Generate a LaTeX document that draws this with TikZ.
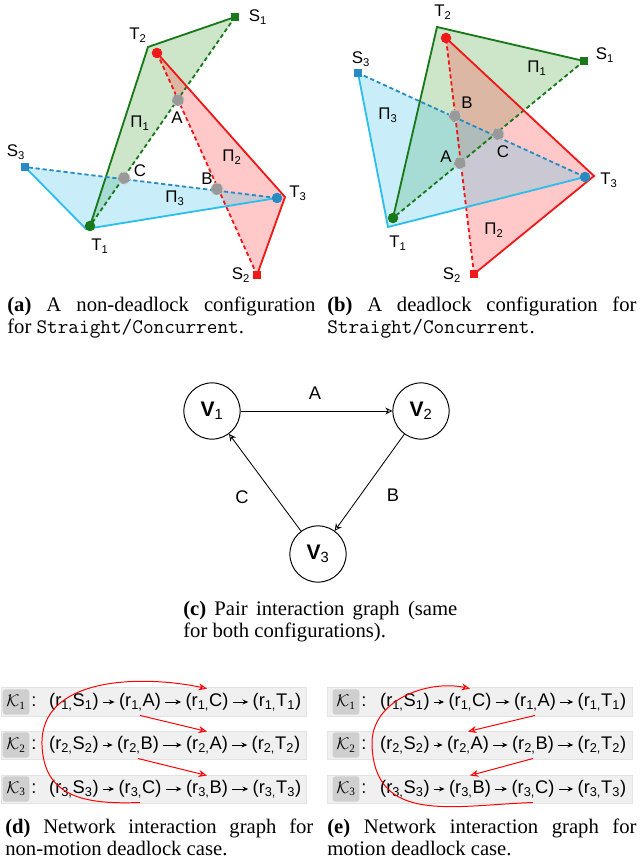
\documentclass[tikz,border=0pt]{standalone}
\usepackage{amsmath}
\usepackage{fontspec}
\setmainfont{Liberation Serif}
\setsansfont{Liberation Sans}
\usepackage{tikz}
\usetikzlibrary{arrows.meta,positioning}
\hyphenpenalty=10000
\exhyphenpenalty=10000

\definecolor{pgreen}{RGB}{25,120,25}
\definecolor{pred}{RGB}{240,25,25}
\definecolor{pcyan}{RGB}{45,190,235}
\definecolor{pblue}{RGB}{40,140,195}
\definecolor{fgreen}{RGB}{90,170,75}
\definecolor{fred}{RGB}{255,75,75}
\definecolor{fblue}{RGB}{75,200,235}

\tikzset{
    lbl/.style={font=\sffamily\fontsize{12}{12}\selectfont, inner sep=1pt},
    tdot/.style={circle, fill=#1, inner sep=0pt, minimum size=7.5pt},
    sbox/.style={rectangle, fill=#1, inner sep=0pt, minimum size=5.5pt},
    xing/.style={circle, fill=gray!80, draw=gray!45, densely dashed, line width=0.7pt, inner sep=0pt, minimum size=8.5pt},
    side/.style={line width=1.3pt, draw=#1},
    route/.style={line width=1.3pt, dash pattern=on 3pt off 2pt, draw=#1},
    vnode/.style={circle, draw, line width=0.7pt, minimum size=40pt, inner sep=0pt, font=\sffamily\fontsize{15}{15}\selectfont},
    garrow/.style={-{Stealth[open,length=5pt,width=5pt]}, line width=0.6pt},
    band/.style={fill=gray!12, draw=gray!22, line width=0.3pt},
    kbox/.style={fill=gray!38, rounded corners=2pt, minimum width=19pt, minimum height=18pt, inner sep=0pt, font=\fontsize{12}{12}\selectfont},
    entry/.style={font=\sffamily\fontsize{13}{13}\selectfont, inner sep=3pt},
    seqarrow/.style={-{Stealth[length=4pt,width=3.5pt]}, line width=0.6pt},
    netarrow/.style={-{Stealth[open,length=6pt,width=5pt]}, draw=red, line width=0.7pt},
    subcap/.style={font=\fontsize{14.7}{15.6}\selectfont, text width=#1, align=justify, inner sep=0pt, anchor=north west}
}

\begin{document}
\begin{tikzpicture}[x=0.025cm, y=0.025cm]
    \useasboundingbox (0,0) rectangle (640,-860);

    % (a) non-deadlock
    \coordinate (aT1) at (90,-226);
    \coordinate (aT1b) at (86,-229);
    \coordinate (aT2) at (148,-47);
    \coordinate (aT2r) at (157,-53);
    \coordinate (aT3) at (277,-198);
    \coordinate (aT3r) at (285,-197);
    \coordinate (aS1) at (235,-17);
    \coordinate (aS2) at (257,-275);
    \coordinate (aS3) at (25,-167);

    \fill [fgreen, fill opacity=0.3] (aT1)--(aT2)--(aS1)--cycle;
    \fill [fred, fill opacity=0.3] (aT2r)--(aT3r)--(aS2)--cycle;
    \fill [fblue, fill opacity=0.3] (aS3)--(aT1b)--(aT3)--cycle;

    \draw [side=pgreen] (aT1)--(aT2)--(aS1);
    \draw [route=pgreen] (aS1)--(aT1);
    \draw [side=pred] (aT2r)--(aT3r)--(aS2);
    \draw [route=pred] (aS2)--(aT2r);
    \draw [side=pcyan] (aS3)--(aT1b)--(aT3);
    \draw [route=pblue] (aT3)--(aS3);

    \node [xing] (aA) at (178,-100) {};
    \node [xing] (aB) at (217,-189) {};
    \node [xing] (aC) at (124,-178) {};
    \node [tdot=pgreen] (aR1) at (aT1) {};
    \node [tdot=pred] (aR2) at (aT2r) {};
    \node [tdot=pblue] (aR3) at (aT3) {};
    \node [sbox=pgreen] (aQ1) at (aS1) {};
    \node [sbox=pred] (aQ2) at (aS2) {};
    \node [sbox=pblue] (aQ3) at (aS3) {};

    \node [lbl] (laT2) at (138,-35) {T\textsubscript{2}};
    \node [lbl] (laS1) at (258,-17) {S\textsubscript{1}};
    \node [lbl] (laP1) at (140,-123) {Π\textsubscript{1}};
    \node [lbl] (laA) at (177,-118) {A};
    \node [lbl] (laP2) at (232,-157) {Π\textsubscript{2}};
    \node [lbl] (laC) at (140,-171) {C};
    \node [lbl] (laB) at (207,-179) {B};
    \node [lbl] (laT3) at (298,-193) {T\textsubscript{3}};
    \node [lbl] (laP3) at (175,-198) {Π\textsubscript{3}};
    \node [lbl] (laS3) at (16,-152) {S\textsubscript{3}};
    \node [lbl] (laT1) at (100,-246) {T\textsubscript{1}};
    \node [lbl] (laS2) at (241,-275) {S\textsubscript{2}};

    % (b) deadlock
    \coordinate (bT1) at (393,-218);
    \coordinate (bT1b) at (388,-227);
    \coordinate (bT2) at (437,-27);
    \coordinate (bT2r) at (446,-38);
    \coordinate (bT3) at (585,-177);
    \coordinate (bT3r) at (594,-176);
    \coordinate (bS1) at (584,-61);
    \coordinate (bS2) at (474,-274);
    \coordinate (bS3) at (358,-73);

    \fill [fgreen, fill opacity=0.3] (bT1)--(bT2)--(bS1)--cycle;
    \fill [fred, fill opacity=0.3] (bT2r)--(bT3r)--(bS2)--cycle;
    \fill [fblue, fill opacity=0.3] (bS3)--(bT1b)--(bT3)--cycle;

    \draw [side=pgreen] (bT1)--(bT2)--(bS1);
    \draw [route=pgreen] (bS1)--(bT1);
    \draw [side=pred] (bT2r)--(bT3r)--(bS2);
    \draw [route=pred] (bS2)--(bT2r);
    \draw [side=pcyan] (bS3)--(bT1b)--(bT3);
    \draw [route=pblue] (bT3)--(bS3);

    \node [xing] (bA) at (460,-163) {};
    \node [xing] (bB) at (455,-116) {};
    \node [xing] (bC) at (498,-134) {};
    \node [tdot=pgreen] (bR1) at (bT1) {};
    \node [tdot=pred] (bR2) at (bT2r) {};
    \node [tdot=pblue] (bR3) at (bT3) {};
    \node [sbox=pgreen] (bQ1) at (bS1) {};
    \node [sbox=pred] (bQ2) at (bS2) {};
    \node [sbox=pblue] (bQ3) at (bS3) {};

    \node [lbl] (lbT2) at (443,-12) {T\textsubscript{2}};
    \node [lbl] (lbS1) at (605,-55) {S\textsubscript{1}};
    \node [lbl] (lbS3) at (361,-59) {S\textsubscript{3}};
    \node [lbl] (lbP1) at (537,-68) {Π\textsubscript{1}};
    \node [lbl] (lbP3) at (388,-115) {Π\textsubscript{3}};
    \node [lbl] (lbB) at (467,-103) {B};
    \node [lbl] (lbC) at (503,-152) {C};
    \node [lbl] (lbA) at (446,-157) {A};
    \node [lbl] (lbT3) at (609,-180) {T\textsubscript{3}};
    \node [lbl] (lbT1) at (398,-243) {T\textsubscript{1}};
    \node [lbl] (lbP2) at (494,-230) {Π\textsubscript{2}};
    \node [lbl] (lbS2) at (452,-275) {S\textsubscript{2}};

    \node [subcap=7.7cm] (capa) at (7,-297) {\textbf{(a)} A non-deadlock configuration\linebreak for \texttt{Straight/Concurrent}.};
    \node [subcap=7.73cm] (capb) at (327,-297) {\textbf{(b)} A deadlock configuration for \texttt{Straight/Concurrent}.};

    % (c) pair interaction graph
    \node [vnode] (v1) at (212,-411) {\textbf{V}\textsubscript{1}};
    \node [vnode] (v2) at (421,-411) {\textbf{V}\textsubscript{2}};
    \node [vnode] (v3) at (318,-554) {\textbf{V}\textsubscript{3}};
    \draw [garrow] (v1)--(v2);
    \draw [garrow] (v2)--(v3);
    \draw [garrow] (v3)--(v1);
    \node [lbl, font=\sffamily\fontsize{13}{13}\selectfont] (gA) at (315,-393) {A};
    \node [lbl, font=\sffamily\fontsize{13}{13}\selectfont] (gB) at (393,-495) {B};
    \node [lbl, font=\sffamily\fontsize{13}{13}\selectfont] (gC) at (242,-497) {C};

    \node [subcap=6.85cm] (capc) at (183,-601) {\textbf{(c)} Pair interaction graph (same for both configurations).};

    % (d) network graph, non-motion deadlock
    \draw [band] (1,-687) rectangle (306,-716);
    \draw [band] (1,-731) rectangle (306,-759);
    \draw [band] (1,-775) rectangle (306,-803);
    \node [kbox] (dk1) at (16,-702) {$\mathcal{K}$\textsubscript{1}};
    \node [kbox] (dk2) at (16,-745) {$\mathcal{K}$\textsubscript{2}};
    \node [kbox] (dk3) at (16,-789) {$\mathcal{K}$\textsubscript{3}};
    \node [entry, inner sep=1pt, right=0pt of dk1] {:};
    \node [entry, inner sep=1pt, right=0pt of dk2] {:};
    \node [entry, inner sep=1pt, right=0pt of dk3] {:};

    \node [entry] (d11) at (74,-702) {(r\textsubscript{1,}S\textsubscript{1})};
    \node [entry] (d12) at (140,-702) {(r\textsubscript{1,}A)};
    \node [entry] (d13) at (207,-702) {(r\textsubscript{1,}C)};
    \node [entry] (d14) at (277,-702) {(r\textsubscript{1,}T\textsubscript{1})};
    \node [entry] (d21) at (74,-745) {(r\textsubscript{2,}S\textsubscript{2})};
    \node [entry] (d22) at (138,-745) {(r\textsubscript{2,}B)};
    \node [entry] (d23) at (207,-745) {(r\textsubscript{2,}A)};
    \node [entry] (d24) at (276,-745) {(r\textsubscript{2,}T\textsubscript{2})};
    \node [entry] (d31) at (74,-789) {(r\textsubscript{3,}S\textsubscript{3})};
    \node [entry] (d32) at (140,-789) {(r\textsubscript{3,}C)};
    \node [entry] (d33) at (207,-789) {(r\textsubscript{3,}B)};
    \node [entry] (d34) at (277,-789) {(r\textsubscript{3,}T\textsubscript{3})};
    \draw [seqarrow] (d11)--(d12);
    \draw [seqarrow] (d12)--(d13);
    \draw [seqarrow] (d13)--(d14);
    \draw [seqarrow] (d21)--(d22);
    \draw [seqarrow] (d22)--(d23);
    \draw [seqarrow] (d23)--(d24);
    \draw [seqarrow] (d31)--(d32);
    \draw [seqarrow] (d32)--(d33);
    \draw [seqarrow] (d33)--(d34);

    \draw [netarrow] (d12.south)--(d23.north);
    \draw [netarrow] (d22.south)--(d33.north);
    \coordinate (dturn) at (42,-745);
    \draw [netarrow] (d32.south) to[out=182,in=-88,looseness=1.2] (dturn) to[out=92,in=168] (d13.north);

    % (e) network graph, motion deadlock
    \draw [band] (327,-687) rectangle (632,-716);
    \draw [band] (327,-731) rectangle (632,-759);
    \draw [band] (327,-775) rectangle (632,-803);
    \node [kbox] (ek1) at (346,-702) {$\mathcal{K}$\textsubscript{1}};
    \node [kbox] (ek2) at (346,-745) {$\mathcal{K}$\textsubscript{2}};
    \node [kbox] (ek3) at (346,-789) {$\mathcal{K}$\textsubscript{3}};
    \node [entry, inner sep=1pt, right=0pt of ek1] {:};
    \node [entry, inner sep=1pt, right=0pt of ek2] {:};
    \node [entry, inner sep=1pt, right=0pt of ek3] {:};

    \node [entry] (e11) at (405,-702) {(r\textsubscript{1,}S\textsubscript{1})};
    \node [entry] (e12) at (470,-702) {(r\textsubscript{1,}C)};
    \node [entry] (e13) at (535,-702) {(r\textsubscript{1,}A)};
    \node [entry] (e14) at (602,-702) {(r\textsubscript{1,}T\textsubscript{1})};
    \node [entry] (e21) at (405,-745) {(r\textsubscript{2,}S\textsubscript{2})};
    \node [entry] (e22) at (468,-745) {(r\textsubscript{2,}A)};
    \node [entry] (e23) at (533,-745) {(r\textsubscript{2,}B)};
    \node [entry] (e24) at (602,-745) {(r\textsubscript{2,}T\textsubscript{2})};
    \node [entry] (e31) at (405,-789) {(r\textsubscript{3,}S\textsubscript{3})};
    \node [entry] (e32) at (470,-789) {(r\textsubscript{3,}B)};
    \node [entry] (e33) at (533,-789) {(r\textsubscript{3,}C)};
    \node [entry] (e34) at (602,-789) {(r\textsubscript{3,}T\textsubscript{3})};
    \draw [seqarrow] (e11)--(e12);
    \draw [seqarrow] (e12)--(e13);
    \draw [seqarrow] (e13)--(e14);
    \draw [seqarrow] (e21)--(e22);
    \draw [seqarrow] (e22)--(e23);
    \draw [seqarrow] (e23)--(e24);
    \draw [seqarrow] (e31)--(e32);
    \draw [seqarrow] (e32)--(e33);
    \draw [seqarrow] (e33)--(e34);

    \draw [netarrow] (e13.south)--(e22.north);
    \draw [netarrow] (e23.south)--(e32.north);
    \coordinate (eturn) at (372,-745);
    \draw [netarrow] (e33.south) to[out=182,in=-88,looseness=1.2] (eturn) to[out=92,in=168] (e12.north);

    \node [subcap=7.7cm] (capd) at (5,-819) {\textbf{(d)} Network interaction graph for non-motion deadlock case.};
    \node [subcap=7.73cm] (cape) at (327,-819) {\textbf{(e)} Network interaction graph for motion deadlock case.};
\end{tikzpicture}
\end{document}
